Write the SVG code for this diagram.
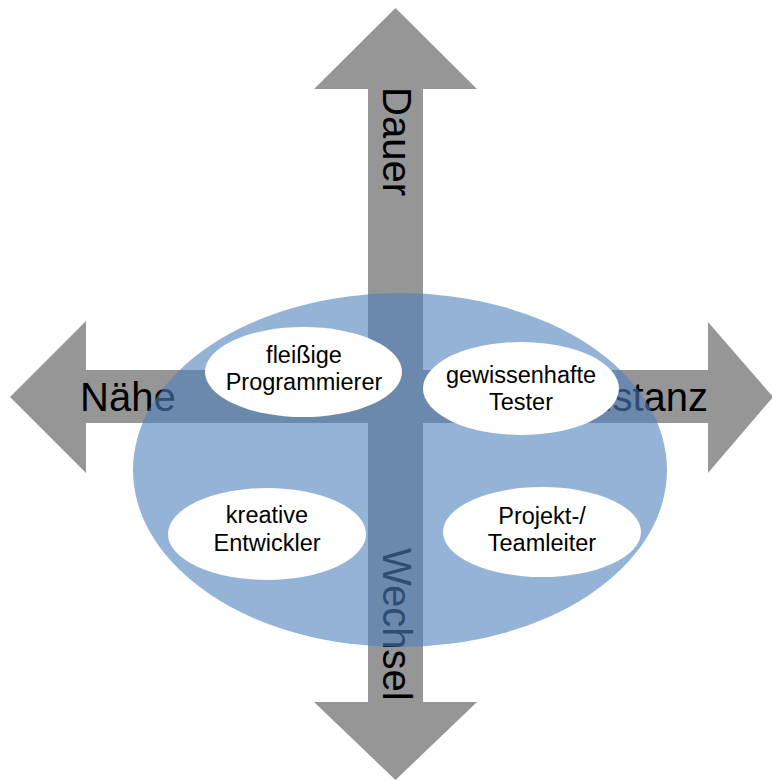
<svg xmlns="http://www.w3.org/2000/svg" width="772" height="780" viewBox="0 0 772 780">
<style>
.arrow{fill:#969696;}
.axis{font-family:"Liberation Sans",Arial,sans-serif;font-size:40px;fill:#000;}
.big{fill:#4f81bd;fill-opacity:0.6;}
.node ellipse{fill:#fff;}
.node text{font-family:"Liberation Sans",Arial,sans-serif;font-size:23.5px;fill:#000;text-anchor:middle;}
</style>
<rect width="772" height="780" fill="#fff"/>
<g id="connectors">
<polygon class="arrow" points="395.5,8 477,89 423,89 423,702 477,702 395.5,780 314,702 368,702 368,89 314,89"/>
<polygon class="arrow" points="10,397 86,321 86,370 708,370 708,322 773,397 708,473 708,423 86,423 86,473"/>
</g>
<g id="axis-labels">
<text class="axis" transform="translate(383,87) rotate(90)">Dauer</text>
<text class="axis" transform="translate(383,548) rotate(90)">Wechsel</text>
<text class="axis" x="80" y="411">Nähe</text>
<text class="axis" x="708" y="411" text-anchor="end">Distanz</text>
</g>
<g id="area">
<ellipse class="big" cx="400" cy="470" rx="267" ry="177"/>
</g>
<g id="node-programmierer" class="node">
<ellipse cx="303.5" cy="372" rx="98.5" ry="45"/>
<text x="304" y="362.5">fleißige</text>
<text x="304" y="390">Programmierer</text>
</g>
<g id="node-tester" class="node">
<ellipse cx="521" cy="388.5" rx="98" ry="46.5"/>
<text x="521" y="382.5">gewissenhafte</text>
<text x="521" y="410">Tester</text>
</g>
<g id="node-entwickler" class="node">
<ellipse cx="267" cy="534" rx="99" ry="46"/>
<text x="267" y="523">kreative</text>
<text x="267" y="551">Entwickler</text>
</g>
<g id="node-teamleiter" class="node">
<ellipse cx="542" cy="532" rx="99" ry="45"/>
<text x="542" y="524">Projekt-/</text>
<text x="542" y="551">Teamleiter</text>
</g>
</svg>
